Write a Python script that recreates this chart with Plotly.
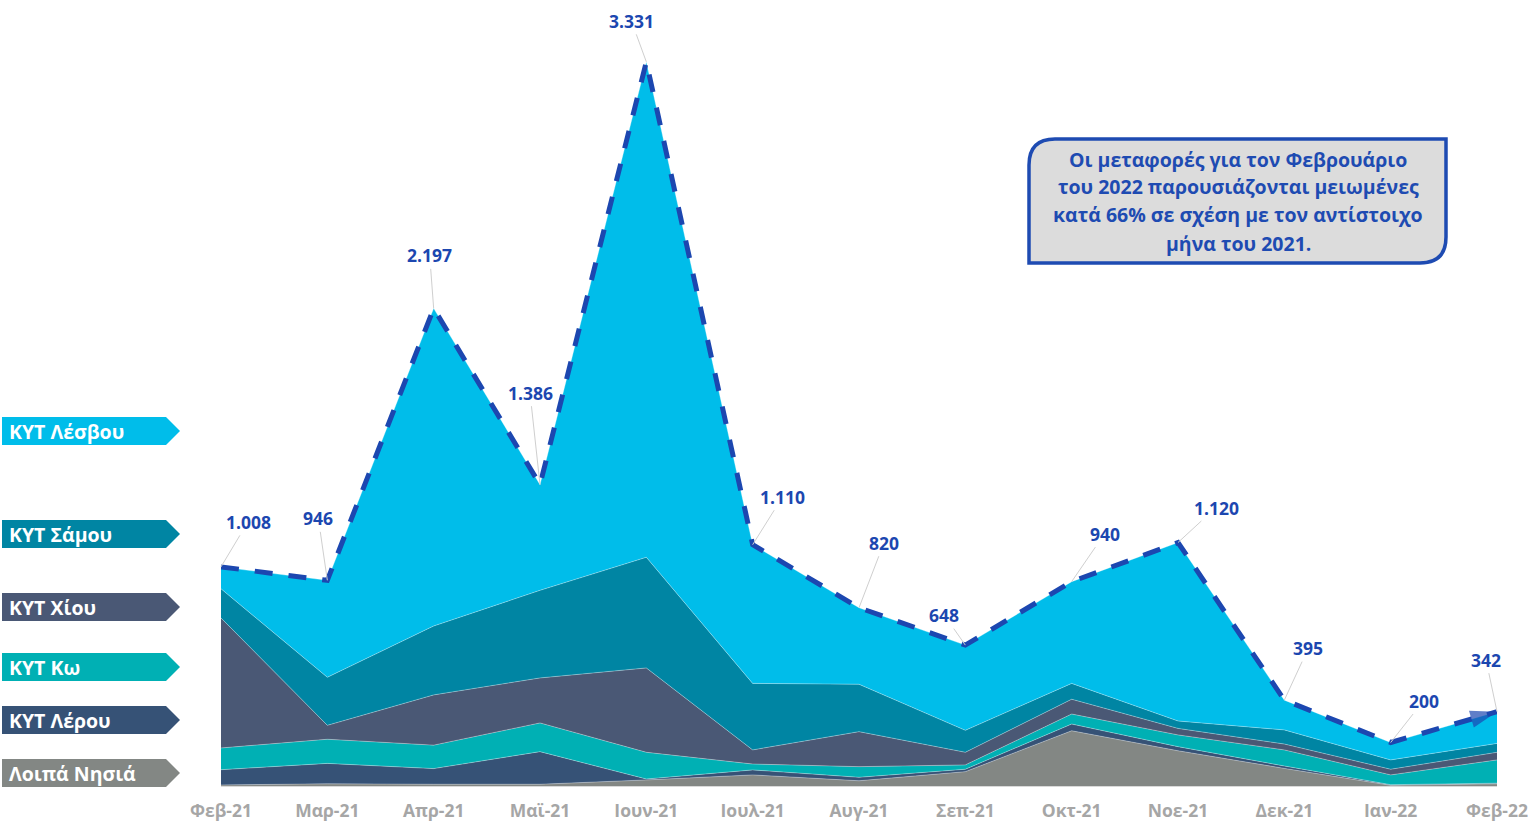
import plotly.graph_objects as go

months = ["Φεβ-21", "Μαρ-21", "Απρ-21", "Μαϊ-21", "Ιουν-21", "Ιουλ-21", "Αυγ-21",
          "Σεπ-21", "Οκτ-21", "Νοε-21", "Δεκ-21", "Ιαν-22", "Φεβ-22"]

loipa = [5, 10, 8, 8, 28, 51, 24, 66, 254, 162, 81, 3, 10]
lerou = [70, 94, 72, 150, 4, 23, 16, 11, 31, 19, 11, 3, 3]
ko = [100, 111, 108, 132, 123, 27, 49, 20, 46, 54, 74, 45, 107]
chiou = [598, 64, 231, 207, 388, 65, 161, 58, 68, 30, 27, 26, 35]
samou = [134, 221, 317, 403, 509, 306, 218, 101, 73, 34, 65, 43, 41]
lesvou = [101, 446, 1461, 486, 2279, 638, 352, 392, 468, 821, 137, 80, 146]
totals = [1008, 946, 2197, 1386, 3331, 1110, 820, 648, 940, 1120, 395, 200, 342]
total_labels = ["1.008", "946", "2.197", "1.386", "3.331", "1.110", "820",
                "648", "940", "1.120", "395", "200", "342"]
note_lines = ["Οι μεταφορές για τον Φεβρουάριο",
              "του 2022 παρουσιάζονται μειωμένες",
              "κατά 66% σε σχέση με τον αντίστοιχο",
              "μήνα του 2021."]

series = [
    ("Λοιπά Νησιά", loipa, "#838784"),
    ("ΚΥΤ Λέρου", lerou, "#365276"),
    ("ΚΥΤ Κω", ko, "#00B0B4"),
    ("ΚΥΤ Χίου", chiou, "#4A5875"),
    ("ΚΥΤ Σάμου", samou, "#0085A3"),
    ("ΚΥΤ Λέσβου", lesvou, "#00BDEA"),
]

W, H = 1531, 823
ML, MR, MT, MB = 221, 34, 10, 37
PW, PH = W - ML - MR, H - MT - MB
FONT = "Open Sans"
BLUE = "#1C47B0"


def px(x):
    return (x - ML) / PW


def py(y):
    return (H - MB - y) / PH


fig = go.Figure()
for name, vals, col in series:
    fig.add_trace(go.Scatter(
        x=months, y=vals, name=name, stackgroup="one", mode="lines",
        line=dict(width=0.7, color="rgba(255,255,255,0.45)"),
        fillcolor=col, showlegend=False, hoverinfo="x+y+name"))

n = len(months)
fig.add_trace(go.Scatter(
    x=months, y=totals, mode="lines+markers", showlegend=False,
    line=dict(color=BLUE, width=5, dash="18px,16px"),
    marker=dict(symbol=["circle"] * (n - 1) + ["arrow"],
                size=[0] * (n - 1) + [28], color=BLUE, angleref="previous",
                line=dict(width=0)),
    cliponaxis=False, hoverinfo="skip"))

offsets = [(27, -45), (-9, -62), (-4, -53), (-10, -92), (-15, -41), (30, -48),
           (25, -65), (-21, -30), (33, -48), (38, -35), (24, -52), (33, -42),
           (-11, -52)]
annotations = []
for m, t, lab, (ax, ay) in zip(months, totals, total_labels, offsets):
    annotations.append(dict(
        x=m, y=t, text="<b>%s</b>" % lab, showarrow=True, arrowhead=0,
        arrowwidth=1, arrowcolor="#CFCFCF", ax=ax, ay=ay, standoff=0,
        font=dict(family=FONT, size=17.5, color=BLUE)))

shapes = []
# legend tags
tags = [("ΚΥΤ Λέσβου", "#00BDEA", 431), ("ΚΥΤ Σάμου", "#0085A3", 534),
        ("ΚΥΤ Χίου", "#4A5875", 607), ("ΚΥΤ Κω", "#00B0B4", 667),
        ("ΚΥΤ Λέρου", "#365276", 720), ("Λοιπά Νησιά", "#838784", 773)]
for name, col, cy in tags:
    x0, x1, x2 = 2, 166, 180
    y0, y1 = cy - 14, cy + 14
    path = "M %f,%f L %f,%f L %f,%f L %f,%f L %f,%f Z" % (
        px(x0), py(y0), px(x1), py(y0), px(x2), py(cy), px(x1), py(y1), px(x0), py(y1))
    shapes.append(dict(type="path", xref="paper", yref="paper", path=path,
                       fillcolor=col, line=dict(width=0)))
    annotations.append(dict(x=px(7), y=py(cy), xref="paper", yref="paper",
                            xanchor="left", yanchor="middle", showarrow=False,
                            text="<b>%s</b>" % name,
                            font=dict(family=FONT, size=19.5, color="white")))

# note box with rounded top-left and bottom-right corners
bx0, bx1, by0, by1, r = 1029, 1446, 139, 263, 26
path = ("M %f,%f Q %f,%f %f,%f L %f,%f L %f,%f Q %f,%f %f,%f L %f,%f Z" % (
    px(bx0), py(by0 + r), px(bx0), py(by0), px(bx0 + r), py(by0),
    px(bx1), py(by0), px(bx1), py(by1 - r), px(bx1), py(by1), px(bx1 - r), py(by1),
    px(bx0), py(by1)))
shapes.append(dict(type="path", xref="paper", yref="paper", path=path,
                   fillcolor="#DCDCDC", line=dict(color="#1E4BB2", width=3.5)))
for i, line in enumerate(note_lines):
    annotations.append(dict(x=px(1238), y=py(159 + 28 * i), xref="paper", yref="paper",
                            xanchor="center", yanchor="middle", showarrow=False,
                            text="<b>%s</b>" % line,
                            font=dict(family=FONT, size=19.5, color="#1E4BB2")))

fig.update_layout(
    width=W, height=H, margin=dict(l=ML, r=MR, t=MT, b=MB, autoexpand=False),
    paper_bgcolor="white", plot_bgcolor="white",
    xaxis=dict(type="category", range=[0, n - 1], showgrid=False, zeroline=False,
               showline=True, linecolor="#D9D9D9", linewidth=1, ticks="",
               automargin=False,
               tickfont=dict(family=FONT, size=17.5, color="#A6A6A6"),
               ticklabelstandoff=9),
    yaxis=dict(range=[0, (H - MT - MB) / 0.2174], visible=False, fixedrange=True,
               automargin=False),
    shapes=shapes, annotations=annotations, hovermode=False,
)
fig.update_xaxes(tickprefix="<b>", ticksuffix="</b>")
fig.write_html("out.html",
               config={"responsive": False, "displayModeBar": False},
               post_script="document.body.style.margin='0';document.body.style.overflow='hidden';")
